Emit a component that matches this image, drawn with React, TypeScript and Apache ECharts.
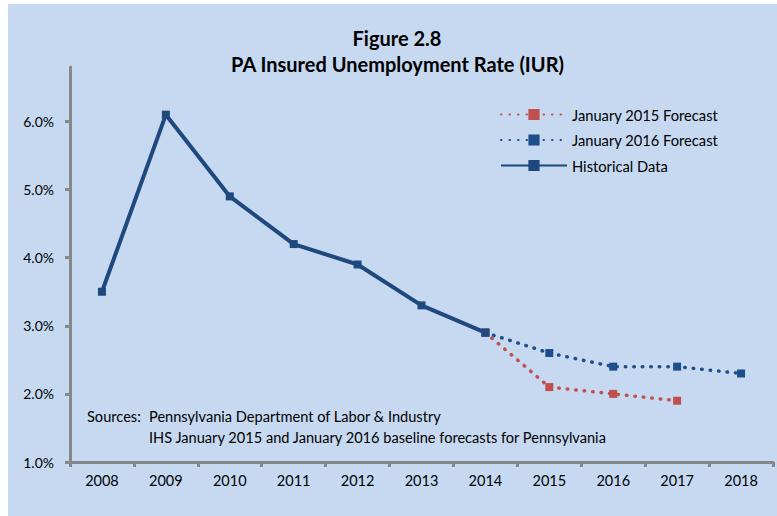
import React, { useEffect, useRef } from "react";
import * as echarts from "echarts";

const years = ["2008", "2009", "2010", "2011", "2012", "2013", "2014", "2015", "2016", "2017", "2018"];
const historical = [3.5, 6.1, 4.9, 4.2, 3.9, 3.3, 2.9, null, null, null, null];
const forecast2015 = [null, null, null, null, null, null, 2.9, 2.1, 2.0, 1.9, null];
const forecast2016 = [null, null, null, null, null, null, 2.9, 2.6, 2.4, 2.4, 2.3];
const seriesNames = ["January 2015 Forecast", "January 2016 Forecast", "Historical Data"];
const titleLines = ["Figure 2.8", "PA Insured Unemployment Rate (IUR)"];
const sourceLines = ["Pennsylvania Department of Labor & Industry", "IHS January 2015 and January 2016 baseline forecasts for Pennsylvania"];

const FONT = "Lato";
const RED = "#c0504d";
const BLUE = "#1f4e8c";
const HIST = "#1f497d";
const AXIS = "#878787";

export default function App() {
  const ref = useRef<HTMLDivElement>(null);
  useEffect(() => {
    if (!ref.current) return;
    const chart = echarts.init(ref.current, null, { renderer: "svg" });
    const dotted = (color: string) => ({
      color,
      width: 3.5,
      type: [0.5, 8],
      cap: "round",
    });
    chart.setOption({
      animation: false,
      backgroundColor: "#c6d9f1",
      textStyle: { fontFamily: FONT },
      grid: { left: 62, top: 63, right: 4, bottom: 54, containLabel: false },
      legend: {
        orient: "vertical",
        left: 487,
        top: 98,
        itemWidth: 66,
        itemHeight: 14,
        itemGap: 10.5,
        data: seriesNames,
        textStyle: { fontFamily: FONT, fontSize: 14.7, color: "#000" },
      },
      xAxis: {
        type: "category",
        data: years,
        boundaryGap: true,
        axisLine: { lineStyle: { color: AXIS, width: 3 } },
        axisTick: { show: true, length: 5, lineStyle: { color: AXIS, width: 3 }, alignWithLabel: false },
        axisLabel: { color: "#000", fontSize: 14.5, fontFamily: FONT, margin: 11 },
      },
      yAxis: {
        type: "value",
        min: 1,
        max: 6.8,
        interval: 1,
        splitLine: { show: false },
        axisLine: { show: true, lineStyle: { color: AXIS, width: 3 } },
        axisTick: { show: true, length: 5, lineStyle: { color: AXIS, width: 3 } },
        axisLabel: {
          color: "#000",
          fontSize: 14,
          fontFamily: FONT,
          margin: 16,
          showMaxLabel: false,
          formatter: (v: number) => (Math.abs(v - Math.round(v)) < 1e-6 ? v.toFixed(1) + "%" : ""),
        },
      },
      graphic: [
        {
          type: "text",
          x: 389,
          y: 34,
          style: { text: titleLines[0], font: `bold 20px ${FONT}`, fill: "#000", align: "center", verticalAlign: "middle" },
        },
        {
          type: "text",
          x: 389.5,
          y: 60,
          style: { text: titleLines[1], font: `bold 20px ${FONT}`, fill: "#000", align: "center", verticalAlign: "middle" },
        },
        {
          type: "text",
          x: 79,
          y: 412,
          style: { text: "Sources:", font: `14.6px ${FONT}`, fill: "#000", verticalAlign: "middle" },
        },
        {
          type: "text",
          x: 141,
          y: 412,
          style: { text: sourceLines[0], font: `14.6px ${FONT}`, fill: "#000", verticalAlign: "middle" },
        },
        {
          type: "text",
          x: 141,
          y: 433,
          style: { text: sourceLines[1], font: `14.6px ${FONT}`, fill: "#000", verticalAlign: "middle" },
        },
      ],
      series: [
        {
          name: seriesNames[0],
          type: "line",
          data: forecast2015,
          symbol: "rect",
          symbolSize: 8,
          showSymbol: true,
          itemStyle: { color: RED },
          lineStyle: dotted(RED),
          z: 2,
        },
        {
          name: seriesNames[1],
          type: "line",
          data: forecast2016,
          symbol: "rect",
          symbolSize: 8,
          itemStyle: { color: BLUE },
          lineStyle: dotted(BLUE),
          z: 3,
        },
        {
          name: seriesNames[2],
          type: "line",
          data: historical,
          symbol: "rect",
          symbolSize: 8,
          itemStyle: { color: HIST },
          lineStyle: { color: HIST, width: 4 },
          z: 4,
        },
      ],
    });
    return () => chart.dispose();
  }, []);
  return (
    <div style={{ position: "fixed", left: 0, top: 0, width: 777, height: 516, background: "#fff" }}>
      <div ref={ref} style={{ position: "absolute", left: 8, top: 4, width: 769, height: 512 }} />
    </div>
  );
}
